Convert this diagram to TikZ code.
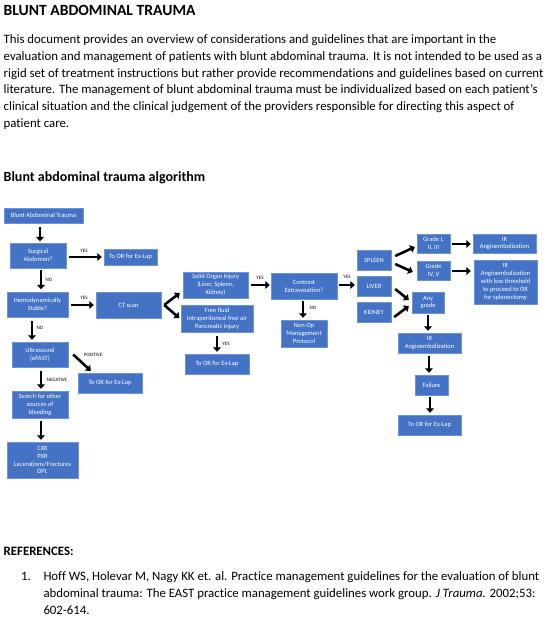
\documentclass[tikz,border=0pt]{standalone}
\usepackage{fontspec}
\setmainfont{Carlito}[Ligatures=NoCommon]
\usetikzlibrary{arrows.meta,calc}
\definecolor{boxblue}{HTML}{4472C4}
\definecolor{boxedge}{HTML}{6F93D6}
\tikzset{
  bx/.style={draw=boxedge, line width=0.4pt, fill=boxblue, text=white, align=center,
    inner sep=0.5pt, font=\fontsize{6.5}{7.9}\selectfont},
  arr/.style={line width=2.6pt, -{Triangle[length=4.5pt,width=7.8pt]}},
  lbl/.style={font=\fontsize{5}{6}\selectfont, inner sep=0pt},
  body/.style={anchor=base west, inner sep=0pt, font=\fontsize{12.8}{16}\selectfont},
}
\begin{document}
\begin{tikzpicture}[x=1pt,y=-1pt]
\fill[white] (0,0) rectangle (552,621);
\useasboundingbox (0,0) rectangle (552,621);
% text
\node[body, font=\fontsize{15.6}{17}\selectfont\bfseries] (title) at (3.5,16) {BLUNT ABDOMINAL TRAUMA};
\node[body] (p1) at (3.5,43.5) {This document provides an overview of considerations and guidelines that are important in the};
\node[body] (p2) at (3.5,60.3) {evaluation and management of patients with blunt abdominal trauma. It is not intended to be used as a};
\node[body] (p3) at (3.5,77) {rigid set of treatment instructions but rather provide recommendations and guidelines based on current};
\node[body] (p4) at (3.5,93.8) {literature. The management of blunt abdominal trauma must be individualized based on each patient’s};
\node[body] (p5) at (3.5,110.5) {clinical situation and the clinical judgement of the providers responsible for directing this aspect of};
\node[body] (p6) at (3.5,127.3) {patient care.};
\node[body, font=\fontsize{14}{16}\selectfont\bfseries] (alg) at (3.5,181.7) {Blunt abdominal trauma algorithm};
\node[body, font=\fontsize{12.8}{16}\selectfont\bfseries] (refs) at (3.5,555.7) {REFERENCES:};
\node[body] (r0) at (21,580.7) {1.};
\node[body] (r1) at (43.3,580.7) {Hoff WS, Holevar M, Nagy KK et. al. Practice management guidelines for the evaluation of blunt};
\node[body] (r2) at (43.3,597.3) {abdominal trauma: The EAST practice management guidelines work group. \textit{J Trauma.} 2002;53:};
\node[body] (r3) at (43.3,614) {602-614.};
% boxes
\node[bx, minimum width=79, minimum height=15] (bat) at (43.5,215.5) {Blunt Abdominal Trauma};
\node[bx, minimum width=56, minimum height=25] (surg) at (38,255.5) {Surgical\\Abdomen?};
\node[bx, minimum width=53, minimum height=16] (or1) at (130.5,257) {To OR for Ex-Lap};
\node[bx, minimum width=61, minimum height=25] (hemo) at (37.5,304.5) {Hemodynamically\\Stable?};
\node[bx, minimum width=65, minimum height=26] (ct) at (128.5,305) {CT scan};
\node[bx, minimum width=56, minimum height=25] (us) at (40,354.5) {Ultrasound\\(eFAST)};
\node[bx, minimum width=64, minimum height=20] (or2) at (110,383) {To OR for Ex-Lap};
\node[bx, minimum width=56, minimum height=27] (search) at (40,404.5) {Search for other\\sources of\\bleeding};
\node[bx, minimum width=71, minimum height=36] (cxr) at (42.5,460) {CXR\\PXR\\Lacerations/Fractures\\DPL};
\node[bx, minimum width=65, minimum height=26] (solid) at (215.5,285) {Solid Organ Injury\\(Liver, Spleen,\\Kidney)};
\node[bx, minimum width=72, minimum height=27] (free) at (217,318.5) {Free fluid\\Intraperitoneal free air\\Pancreatic injury};
\node[bx, minimum width=66, minimum height=26] (contr) at (304,286) {Contrast\\Extravasation?};
\node[bx, minimum width=46, minimum height=27] (nonop) at (304,333.5) {Non-Op\\Management\\Protocol};
\node[bx, minimum width=64, minimum height=20] (or3) at (217,364) {To OR for Ex-Lap};
\node[bx, minimum width=34, minimum height=20] (spleen) at (374,260) {SPLEEN};
\node[bx, minimum width=34, minimum height=20] (liver) at (374,286) {LIVER};
\node[bx, minimum width=34, minimum height=20] (kidney) at (374,312) {KIDNEY};
\node[bx, minimum width=33, minimum height=19] (g1) at (433.5,243.5) {Grade I,\\II, III};
\node[bx, minimum width=33, minimum height=19] (g4) at (433.5,270.5) {Grade\\IV, V};
\node[bx, minimum width=63, minimum height=19] (ir1) at (504.5,243.5) {IR\\Angioembolization};
\node[bx, minimum width=63, minimum height=44] (ir2) at (505.5,282) {IR\\Angioembolization\\with low threshold\\to proceed to OR\\for splenectomy};
\node[bx, minimum width=32, minimum height=21] (any) at (428,302.5) {Any\\grade};
\node[bx, minimum width=63, minimum height=20] (ir3) at (429.5,343) {IR\\Angioembolization};
\node[bx, minimum width=33, minimum height=20] (fail) at (431.5,385) {Failure};
\node[bx, minimum width=63, minimum height=20] (or4) at (429.5,425) {To OR for Ex-Lap};
% arrows
\draw[arr] ($(bat.south)+(-3.5,4)$) -- ($(surg.north)+(2,-1.5)$);
\draw[arr] ($(surg.east)+(3,1.5)$) -- ($(or1.west)+(-2,0)$);
\draw[arr] ($(surg.south)+(3,2)$) -- ($(hemo.north)+(3.5,-2.5)$);
\draw[arr] ($(hemo.east)+(3,0.5)$) -- ($(ct.west)+(-2,0)$);
\draw[arr] ($(ct.east)+(3,0)$) -- ($(solid.west)+(-3,8)$);
\draw[arr] ($(ct.east)+(3,0)$) -- ($(free.west)+(-1.5,-0.5)$);
\draw[arr] ($(hemo.south)+(-5.5,4)$) -- ($(us.north)+(-8,-2)$);
\draw[arr] ($(us.east)+(5,0)$) -- ($(or2.north west)+(13,-2)$);
\draw[arr] ($(us.south)+(1,4)$) -- ($(search.north)+(1,-2)$);
\draw[arr] ($(search.south)+(1,3)$) -- ($(cxr.north)+(-1.5,-2)$);
\draw[arr] ($(solid.east)+(3,0)$) -- ($(contr.west)+(-1,-1)$);
\draw[arr] ($(free.south)+(0,3.5)$) -- ($(or3.north)+(0,-2)$);
\draw[arr] ($(contr.east)+(2,-1)$) -- ($(liver.west)+(-2,-1)$);
\draw[arr] ($(contr.south)+(-1,2)$) -- ($(nonop.north)+(-1,-2)$);
\draw[arr] ($(spleen.east)+(4,-4)$) -- ($(g1.west)+(-2,3.5)$);
\draw[arr] ($(spleen.east)+(4,4)$) -- ($(g4.west)+(-4,1.5)$);
\draw[arr] ($(g1.east)+(2,0.5)$) -- ($(ir1.west)+(-2,0.5)$);
\draw[arr] ($(g4.east)+(2,0.5)$) -- ($(ir2.west)+(-3,-11)$);
\draw[arr] ($(liver.east)+(4,3)$) -- ($(any.west)+(-3,-2.5)$);
\draw[arr] ($(kidney.east)+(3,5)$) -- ($(any.west)+(-3,3.5)$);
\draw[arr] ($(any.south)+(0,2)$) -- ($(ir3.north)+(-1.5,-2)$);
\draw[arr] ($(ir3.south)+(-0.5,3)$) -- ($(fail.north)+(-2.5,-2)$);
\draw[arr] ($(fail.south)+(-1.5,2)$) -- ($(or4.north)+(0.5,-2)$);
% labels
\node[lbl] (l1) at (84,251) {YES};
\node[lbl] (l2) at (49,280) {NO};
\node[lbl] (l3) at (84,298) {YES};
\node[lbl] (l4) at (40,328) {NO};
\node[lbl] (l5) at (93,355) {POSITIVE};
\node[lbl] (l6) at (57,380) {NEGATIVE};
\node[lbl] (l7) at (260,278) {YES};
\node[lbl] (l8) at (226,344) {YES};
\node[lbl] (l9) at (347,277) {YES};
\node[lbl] (l10) at (313,308) {NO};
\end{tikzpicture}
\end{document}
